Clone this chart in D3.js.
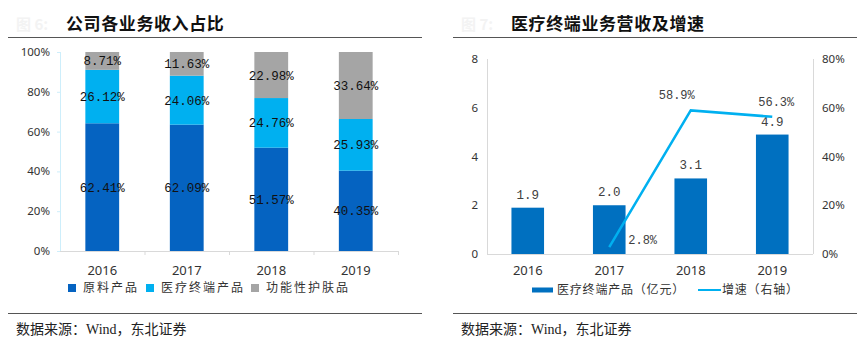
<!DOCTYPE html>
<html>
<head>
<meta charset="utf-8">
<script src="https://cdn.jsdelivr.net/npm/d3@7"></script>
<style>
  html, body { margin: 0; padding: 0; background: #fff; }
  svg { display: block; }
</style>
</head>
<body>
<svg id="chart" width="864" height="341"></svg>
<script>
// revenue mix (left) and medical terminal revenue + growth (right)

const YEARS = ['2016', '2017', '2018', '2019'];

// share of revenue by business, %
const RAW_SHARE  = [62.41, 62.09, 51.57, 40.35];
const MED_SHARE  = [26.12, 24.06, 24.76, 25.93];
const SKIN_SHARE = [8.71, 11.63, 22.98, 33.64];
const MIX_NAMES  = ['原料产品', '医疗终端产品', '功能性护肤品'];
const MIX_TICKS  = [0, 0.2, 0.4, 0.6, 0.8, 1];

// medical terminal revenue (亿元) and yoy growth (%)
const MED_REVENUE = [1.9, 2.0, 3.1, 4.9];
const MED_GROWTH  = [null, 2.8, 58.9, 56.3];
const REV_TICKS   = [0, 2, 4, 6, 8];
const GROWTH_TICKS = [0, 20, 40, 60, 80];
const RIGHT_NAMES = ['医疗终端产品（亿元）', '增速（右轴）'];

const SOURCE = '数据来源：Wind，东北证券';

const DK_BLUE  = '#0563c1';
const LT_BLUE  = '#00b0f0';
const GRAY     = '#a5a5a5';
const BAR_BLUE = '#0070c0';
const AXIS     = '#d9d9d9';
const TXT      = '#404040';

const SANS = "'Noto Sans', 'Noto Sans CJK SC', sans-serif";
const CJK  = "'Noto Sans CJK SC', sans-serif";
const MONO = "'Liberation Mono', 'DejaVu Sans Mono', monospace";
const SERIF = "'Liberation Serif', 'Noto Sans CJK SC', serif";

const svg = d3.select('#chart');

function header(g, x0, x1, num, title, tx) {
    g.append('text')
        .attr('x', tx - 50).attr('y', 30)
        .attr('fill', '#f3f3f3')
        .style('font', `bold 15px ${CJK}`)
        .text(num);
    g.append('text')
        .attr('x', tx).attr('y', 30)
        .attr('fill', '#111')
        .style('font', `bold 17px ${CJK}`)
        .style('letter-spacing', '0.6px')
        .text(title);
    g.append('line')
        .attr('x1', x0).attr('x2', x1)
        .attr('y1', 37.5).attr('y2', 37.5)
        .attr('stroke', '#555').attr('stroke-width', 1.2);
    g.append('line')
        .attr('x1', x0).attr('x2', x1)
        .attr('y1', 313.5).attr('y2', 313.5)
        .attr('stroke', '#555').attr('stroke-width', 1.2);
    g.append('text')
        .attr('x', x0 + 8).attr('y', 334)
        .attr('fill', '#222')
        .style('font', `14px ${SERIF}`)
        .text(SOURCE);
}

// ---------- left: 100% stacked bars ----------
{
    const g = svg.append('g');
    header(g, 8, 422, '图 6:', '公司各业务收入占比', 66);

    const left = 60, right = 398, top = 52, bottom = 251;

    const rows = YEARS.map((y, i) => ({
        year: y, raw: RAW_SHARE[i], med: MED_SHARE[i], skin: SKIN_SHARE[i]
    }));
    const keys = ['raw', 'med', 'skin'];
    const colors = [DK_BLUE, LT_BLUE, GRAY];

    const series = d3.stack().keys(keys).offset(d3.stackOffsetExpand)(rows);

    const x = d3.scaleBand().domain(YEARS).range([left, right]).paddingInner(0.6).paddingOuter(0.3);
    const xStep = d3.scaleBand().domain(YEARS).range([left, right]);
    const y = d3.scaleLinear().domain([0, 1]).range([bottom, top]);

    // axes
    g.append('line')
        .attr('x1', left + 0.5).attr('x2', left + 0.5)
        .attr('y1', top).attr('y2', bottom)
        .attr('stroke', '#cdeefb');
    g.append('line')
        .attr('x1', left).attr('x2', right)
        .attr('y1', bottom + 0.5).attr('y2', bottom + 0.5)
        .attr('stroke', AXIS);
    g.selectAll('.xt').data(YEARS).join('line')
        .attr('x1', d => xStep(d) + xStep.step() + 0.5)
        .attr('x2', d => xStep(d) + xStep.step() + 0.5)
        .attr('y1', bottom).attr('y2', bottom + 4)
        .attr('stroke', AXIS);
    g.selectAll('.yt').data(MIX_TICKS).join('line')
        .attr('x1', left - 3).attr('x2', left)
        .attr('y1', d => y(d) + 0.5).attr('y2', d => y(d) + 0.5)
        .attr('stroke', '#cdeefb');

    g.selectAll('.ylab').data(MIX_TICKS).join('text')
        .attr('x', 50).attr('y', d => y(d) + 4)
        .attr('text-anchor', 'end')
        .attr('fill', '#333')
        .style('font', `11.5px ${SANS}`)
        .text(d => d3.format('.0%')(d));

    g.selectAll('.xlab').data(YEARS).join('text')
        .attr('x', d => x(d) + x.bandwidth() / 2).attr('y', 275)
        .attr('text-anchor', 'middle')
        .attr('fill', '#333')
        .style('font', `13px ${SANS}`)
        .text(d => d);

    series.forEach((s, si) => {
        g.append('g').selectAll('rect').data(s).join('rect')
            .attr('x', d => x(d.data.year))
            .attr('width', x.bandwidth())
            .attr('y', d => y(d[1]))
            .attr('height', d => y(d[0]) - y(d[1]))
            .attr('fill', colors[si]);
        g.append('g').selectAll('text').data(s).join('text')
            .attr('x', d => x(d.data.year) + x.bandwidth() / 2)
            .attr('y', d => (y(d[0]) + y(d[1])) / 2 + 4.5)
            .attr('text-anchor', 'middle')
            .attr('fill', '#111')
            .style('font', `12.5px ${MONO}`)
            .text(d => d.data[keys[si]].toFixed(2) + '%');
    });

    // legend
    const legX = [68, 146, 251];
    const leg = g.append('g');
    MIX_NAMES.forEach((name, i) => {
        leg.append('rect')
            .attr('x', legX[i]).attr('y', 284)
            .attr('width', 8).attr('height', 8)
            .attr('fill', colors[i]);
        leg.append('text')
            .attr('x', legX[i] + 15).attr('y', 292)
            .attr('fill', '#333')
            .style('font', `12px ${CJK}`)
            .style('letter-spacing', '2px')
            .text(name);
    });
}

// ---------- right: bars + growth line ----------
{
    const g = svg.append('g');
    header(g, 453, 857, '图 7:', '医疗终端业务营收及增速', 511);

    const left = 487, right = 813, top = 59, bottom = 254;

    const x = d3.scaleBand().domain(YEARS).range([left, right]).paddingInner(0.6).paddingOuter(0.3);
    const yL = d3.scaleLinear().domain([0, 8]).range([bottom, top]);
    const yR = d3.scaleLinear().domain([0, 80]).range([bottom, top]);

    g.append('line')
        .attr('x1', left + 0.5).attr('x2', left + 0.5)
        .attr('y1', top).attr('y2', bottom)
        .attr('stroke', AXIS);
    g.append('line')
        .attr('x1', right + 0.5).attr('x2', right + 0.5)
        .attr('y1', top).attr('y2', bottom)
        .attr('stroke', AXIS);
    g.append('line')
        .attr('x1', left).attr('x2', right)
        .attr('y1', bottom + 0.5).attr('y2', bottom + 0.5)
        .attr('stroke', AXIS);

    g.selectAll('.yl').data(REV_TICKS).join('text')
        .attr('x', 478).attr('y', d => yL(d) + 4)
        .attr('text-anchor', 'end')
        .attr('fill', '#333')
        .style('font', `11.5px ${SANS}`)
        .text(d => d);

    g.selectAll('.yr').data(GROWTH_TICKS).join('text')
        .attr('x', 822).attr('y', d => yR(d) + 4)
        .attr('fill', '#333')
        .style('font', `11.5px ${SANS}`)
        .text(d => d + '%');

    g.selectAll('.xlab').data(YEARS).join('text')
        .attr('x', d => x(d) + x.bandwidth() / 2).attr('y', 275)
        .attr('text-anchor', 'middle')
        .attr('fill', '#333')
        .style('font', `13px ${SANS}`)
        .text(d => d);

    g.selectAll('.bar').data(MED_REVENUE).join('rect')
        .attr('x', (d, i) => x(YEARS[i]))
        .attr('width', x.bandwidth())
        .attr('y', d => yL(d))
        .attr('height', d => bottom - yL(d))
        .attr('fill', BAR_BLUE);

    g.selectAll('.barlab').data(MED_REVENUE).join('text')
        .attr('x', (d, i) => x(YEARS[i]) + x.bandwidth() / 2)
        .attr('y', d => yL(d) - 9)
        .attr('text-anchor', 'middle')
        .attr('fill', TXT)
        .style('font', `12.5px ${MONO}`)
        .text(d => d.toFixed(1));

    const pts = MED_GROWTH
        .map((v, i) => ({ year: YEARS[i], v }))
        .filter(d => d.v != null);

    const line = d3.line()
        .x(d => x(d.year) + x.bandwidth() / 2)
        .y(d => yR(d.v));

    g.append('path')
        .datum(pts)
        .attr('d', line)
        .attr('fill', 'none')
        .attr('stroke', LT_BLUE)
        .attr('stroke-width', 2.5);

    // first point's label sits to the right, the rest above
    g.selectAll('.ptlab').data(pts).join('text')
        .attr('x', (d, i) => x(d.year) + x.bandwidth() / 2 + (i === 0 ? 19 : (i === 1 ? -14 : 4)))
        .attr('y', (d, i) => i === 0 ? yR(d.v) - 3 : yR(d.v) - 11)
        .attr('text-anchor', (d, i) => i === 0 ? 'start' : 'middle')
        .attr('fill', TXT)
        .style('font', `12px ${MONO}`)
        .text(d => d.v.toFixed(1) + '%');

    // legend
    const leg = g.append('g');
    leg.append('rect')
        .attr('x', 532).attr('y', 287.5)
        .attr('width', 21).attr('height', 5)
        .attr('fill', BAR_BLUE);
    leg.append('text')
        .attr('x', 557).attr('y', 294)
        .attr('fill', '#333')
        .style('font', `12px ${CJK}`)
        .style('letter-spacing', '0.8px')
        .text(RIGHT_NAMES[0]);
    leg.append('line')
        .attr('x1', 698).attr('x2', 721)
        .attr('y1', 290).attr('y2', 290)
        .attr('stroke', LT_BLUE).attr('stroke-width', 2);
    leg.append('text')
        .attr('x', 722).attr('y', 294)
        .attr('fill', '#333')
        .style('font', `12px ${CJK}`)
        .style('letter-spacing', '0.8px')
        .text(RIGHT_NAMES[1]);
}
</script>
</body>
</html>
